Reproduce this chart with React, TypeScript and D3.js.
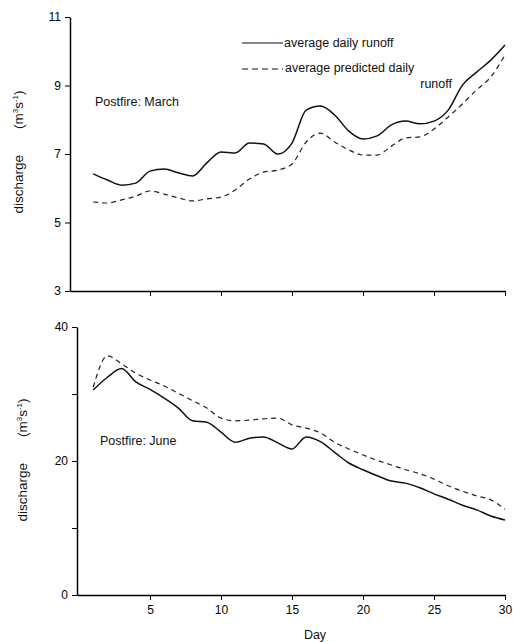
import { useEffect, useRef } from "react";
import * as d3 from "d3";

const days = d3.range(1, 31);

const marchObserved = [
  6.42, 6.24, 6.09, 6.15, 6.5, 6.56, 6.45, 6.36, 6.74, 7.06, 7.03, 7.32, 7.29, 7.0, 7.32,
  8.28, 8.4, 8.14, 7.67, 7.44, 7.53, 7.85, 7.96, 7.88, 7.96, 8.28, 9.01, 9.39, 9.74, 10.18,
];
const marchPredicted = [
  5.6, 5.57, 5.66, 5.77, 5.92, 5.83, 5.72, 5.63, 5.69, 5.74, 5.95, 6.27, 6.47, 6.53, 6.71,
  7.35, 7.61, 7.35, 7.12, 6.97, 6.97, 7.23, 7.47, 7.5, 7.73, 8.08, 8.46, 8.87, 9.25, 9.89,
];
const juneObserved = [
  30.6, 32.5, 33.8, 31.8, 30.7, 29.4, 27.9, 26.0, 25.8, 24.3, 22.8, 23.4, 23.6, 22.7, 21.8,
  23.6, 22.9, 21.3, 19.7, 18.7, 17.8, 17.0, 16.7, 16.0, 15.1, 14.3, 13.4, 12.7, 11.8, 11.2,
];
const junePredicted = [
  31.0, 35.7, 34.5, 33.1, 32.1, 31.2, 30.1, 29.0, 27.9, 26.4, 26.0, 26.1, 26.3, 26.4, 25.4,
  24.9, 24.2, 22.8, 21.8, 20.9, 20.1, 19.4, 18.7, 18.1, 17.3, 16.3, 15.5, 14.8, 14.2, 12.8,
];

const dayTicks = [5, 10, 15, 20, 25, 30];
const marchTicks = [3, 5, 7, 9, 11];
const juneTicks = [0, 10, 20, 30, 40];
const juneLabels = [0, 20, 40];

const FONT = "'Liberation Sans', Arial, sans-serif";

const App = () => {
  const ref = useRef<SVGSVGElement>(null);

  useEffect(() => {
    const svg = d3.select(ref.current);
    svg.selectAll("*").remove();

    const x = d3.scaleLinear().domain([0, 30]).range([79, 505]);

    const panel = (
      vals1: number[],
      vals2: number[],
      y: d3.ScaleLinear<number, number>,
      yTicks: number[],
      yLabels: number[],
      axisX: number,
      showDays: boolean
    ) => {
      const g = svg.append("g");
      const [y0] = y.range();

      const ya = g
        .append("g")
        .attr("transform", `translate(${axisX},0)`)
        .call(
          d3
            .axisLeft(y)
            .tickValues(yTicks)
            .tickSize(5)
            .tickSizeOuter(0)
            .tickFormat((d) => (yLabels.includes(+d) ? String(d) : ""))
        );
      ya.select(".domain").attr("stroke-width", 1.5);
      ya.selectAll("text").attr("font-size", 12).attr("font-family", FONT).attr("dx", -1);

      const xa = g
        .append("g")
        .attr("transform", `translate(0,${y0})`)
        .call(
          d3
            .axisBottom(x.copy().domain([x.invert(axisX), 30]).range([axisX, 505]))
            .tickValues(dayTicks)
            .tickSize(5)
            .tickSizeOuter(0)
            .tickFormat((d) => (showDays ? String(d) : ""))
        );
      xa.select(".domain").attr("stroke-width", 1.5);
      xa.selectAll("text").attr("font-size", 12).attr("font-family", FONT).attr("dy", "0.9em");

      const line = d3
        .line<number>()
        .x((_, i) => x(days[i]))
        .y((d) => y(d))
        .curve(d3.curveMonotoneX);

      g.append("path")
        .datum(vals1)
        .attr("d", line)
        .attr("fill", "none")
        .attr("stroke", "#111")
        .attr("stroke-width", 1.5);
      g.append("path")
        .datum(vals2)
        .attr("d", line)
        .attr("fill", "none")
        .attr("stroke", "#222")
        .attr("stroke-width", 1.2)
        .attr("stroke-dasharray", "5,4");
      return g;
    };

    const yTop = d3.scaleLinear().domain([3, 11]).range([291, 17]);
    const yBot = d3.scaleLinear().domain([0, 40]).range([595, 327]);

    panel(marchObserved, marchPredicted, yTop, marchTicks, marchTicks, 70, false);
    panel(juneObserved, junePredicted, yBot, juneTicks, juneLabels, 77, true);

    const text = (tx: number, ty: number, s: string, anchor = "start") =>
      svg
        .append("text")
        .attr("x", tx)
        .attr("y", ty)
        .attr("text-anchor", anchor)
        .attr("font-size", 12.5)
        .attr("font-family", FONT)
        .attr("fill", "#111")
        .text(s);

    // legend
    svg.append("line").attr("x1", 242).attr("x2", 283).attr("y1", 43).attr("y2", 43)
      .attr("stroke", "#111").attr("stroke-width", 1.2);
    svg.append("line").attr("x1", 242).attr("x2", 283).attr("y1", 69).attr("y2", 69)
      .attr("stroke", "#111").attr("stroke-width", 1.2).attr("stroke-dasharray", "6,4");
    text(284, 47, "average daily runoff");
    text(285, 72, "average predicted daily");
    text(452, 88, "runoff", "end");

    text(95, 106, "Postfire: March");
    text(100, 445, "Postfire: June");
    text(315, 639, "Day", "middle");

    const yTitle = (cx: number, cy: number) => {
      const t = svg
        .append("text")
        .attr("transform", `translate(${cx},${cy}) rotate(-90)`)
        .attr("text-anchor", "middle")
        .attr("font-size", 13.5)
        .attr("font-family", FONT)
        .attr("fill", "#111");
      t.append("tspan").text("discharge");
      t.append("tspan").attr("dx", 26).text("(m");
      t.append("tspan").attr("font-size", 8).attr("dy", -5).text("3");
      t.append("tspan").attr("dy", 5).text("s");
      t.append("tspan").attr("font-size", 8).attr("dy", -5).text("-1");
      t.append("tspan").attr("dy", 5).text(")");
    };
    yTitle(23, 152);
    yTitle(27, 460);
  }, []);

  return (
    <svg
      ref={ref}
      width={513}
      height={642}
      style={{ position: "absolute", left: 0, top: 0, background: "#fff" }}
    />
  );
};

export default App;
